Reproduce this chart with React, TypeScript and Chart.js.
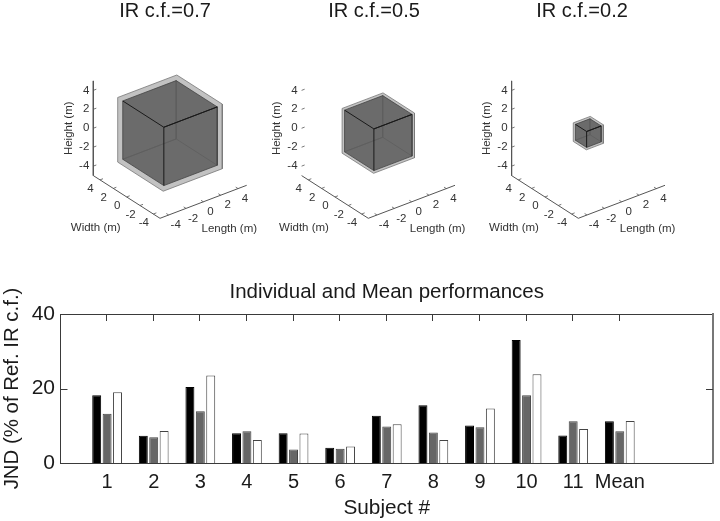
import React, { useEffect, useRef } from "react";
import { Chart, registerables } from "chart.js";

Chart.register(...registerables);

const FONT = '"Liberation Sans", Arial, sans-serif';
const INK = "#333333";

// Bar chart data
const subjects = ["1", "2", "3", "4", "5", "6", "7", "8", "9", "10", "11", "Mean"];
const seriesBlack = [18.2, 7.3, 20.4, 8.0, 8.0, 4.1, 12.7, 15.5, 10.1, 33.0, 7.4, 11.2];
const seriesGray = [13.2, 6.9, 13.9, 8.5, 3.6, 3.8, 9.8, 8.2, 9.6, 18.2, 11.2, 8.5];
const seriesWhite = [19.0, 8.6, 23.5, 6.2, 7.9, 4.4, 10.4, 6.2, 14.6, 23.8, 9.1, 11.3];
const yTicks = [0, 20, 40];
const yInnerTicks = [20];
const X_MAX = 14;
const Y_MAX = 40;
const TICK_PX = 7;

// Cube panels data (half-sizes in metres)
const panelTitles = ["IR c.f.=0.7", "IR c.f.=0.5", "IR c.f.=0.2"];
const outerHalf = [3.41, 2.36, 0.98];
const innerHalf = [3.08, 2.2, 0.84];
const axisTicks = [-4, -2, 0, 2, 4];
const axisLimit = 5;

// Layout of each 3D panel
const panelLeft = [55, 264, 472];
const panelCenterX = [170, 378.3, 588.3];
const panelHeightLine = [true, false, true];
const PANEL_W = 220;
const PANEL_H = 245;
const PANEL_TITLE = 21;
const CENTER_Y = 133.1;

// View vectors: screen displacement per metre, y up
const viewL = [8.67, 3.3];
const viewW = [-6.67, 4.27];
const viewH = 9.47;

type V3 = [number, number, number];
const project = ([l, w, h]: V3) => ({
  x: l * viewL[0] + w * viewW[0],
  y: l * viewL[1] + w * viewW[1] + h * viewH,
});
const pts = (list: V3[]) => list.map(project);

function hexagon(a: number): V3[] {
  return [
    [a, a, a],
    [a, -a, a],
    [a, -a, -a],
    [-a, -a, -a],
    [-a, a, -a],
    [-a, a, a],
    [a, a, a],
  ];
}

function star(a: number, sign: number): V3[] {
  // three edges meeting at the front-top (sign=1) or back-bottom (sign=-1) vertex
  const c: V3 = sign > 0 ? [-a, -a, a] : [a, a, -a];
  const s = sign > 0 ? 1 : -1;
  return [
    [c[0], c[1], c[2] - 2 * a * s],
    c,
    [c[0] + 2 * a * s, c[1], c[2]],
    c,
    [c[0], c[1] + 2 * a * s, c[2]],
  ];
}

const line = (data: { x: number; y: number }[], color: string, width: number, fill: any = false, bg = "transparent") => ({
  data,
  showLine: true,
  borderColor: color,
  borderWidth: width,
  backgroundColor: bg,
  fill,
  pointRadius: 0,
  tension: 0,
  clip: false as const,
});

function panelConfig(i: number) {
  const L = axisLimit;
  const o = outerHalf[i];
  const n = innerHalf[i];
  const cx = panelCenterX[i] - panelLeft[i];
  const tickLen = 0.35;
  const axisColor = "#555555";

  const datasets: any[] = [];
  // first dataset is painted on top
  datasets.push(line(pts(star(n, 1)), "#1a1a1a", 1));
  datasets.push(line(pts(hexagon(n)), "#444444", 0.8));
  datasets.push(line(pts(star(n, -1)), "#5e5e5e", 0.8));
  datasets.push(line(pts(hexagon(n)), "#444444", 0, "shape", "#6b6b6b"));
  datasets.push(line(pts(hexagon(o)), "#777777", 0.8, "shape", "#c2c2c2"));
  // axes
  datasets.push(line(pts([[-L, L, -L], [-L, -L, -L], [L, -L, -L]]), axisColor, 1));
  if (panelHeightLine[i]) datasets.push(line(pts([[-L, L, L], [-L, L, -L]]), axisColor, 1));
  axisTicks.forEach((v) => {
    datasets.push(line(pts([[v, -L, -L], [v, -L + tickLen, -L]]), axisColor, 0.8));
    datasets.push(line(pts([[-L, v, -L], [-L + tickLen, v, -L]]), axisColor, 0.8));
    datasets.push(line(pts([[-L, L, v], [-L + tickLen, L, v]]), axisColor, 0.8));
  });

  const textPlugin = {
    id: "panelText" + i,
    afterDatasetsDraw(chart: any) {
      const { ctx, scales } = chart;
      const at = (p: V3) => {
        const q = project(p);
        return { x: scales.x.getPixelForValue(q.x), y: scales.y.getPixelForValue(q.y) };
      };
      ctx.save();
      ctx.fillStyle = INK;
      ctx.font = `11.5px ${FONT}`;
      ctx.textBaseline = "middle";
      ctx.textAlign = "center";
      axisTicks.forEach((v) => {
        const a = at([v, -L, -L]);
        ctx.fillText(String(v), a.x + 7, a.y + 10);
        const b = at([-L, v, -L]);
        ctx.fillText(String(v), b.x - 9.5, b.y + 9);
      });
      ctx.textAlign = "right";
      axisTicks.forEach((v) => {
        const c = at([-L, L, v]);
        ctx.fillText(String(v), c.x - 4, c.y);
      });
      ctx.textAlign = "center";
      const origin = at([-L, -L, -L]);
      ctx.fillText("Width (m)", origin.x - 64.3, origin.y + 9.5);
      ctx.fillText("Length (m)", origin.x + 69.3, origin.y + 11);
      const hAxis = at([-L, L, 0]);
      ctx.translate(hAxis.x - 24.3, hAxis.y);
      ctx.rotate(-Math.PI / 2);
      ctx.fillText("Height (m)", 0, 0);
      ctx.restore();
    },
  };

  return {
    type: "scatter" as const,
    data: { datasets },
    plugins: [textPlugin],
    options: {
      animation: false as const,
      responsive: false,
      layout: { padding: 0 },
      plugins: {
        legend: { display: false },
        tooltip: { enabled: false },
        title: {
          display: true,
          text: panelTitles[i],
          color: "#1a1a1a",
          font: { family: FONT, size: 20, weight: "normal" as const, lineHeight: 1 },
          padding: { top: 1, bottom: 0 },
        },
      },
      scales: {
        x: { type: "linear" as const, display: false, min: -cx, max: PANEL_W - cx },
        y: {
          type: "linear" as const,
          display: false,
          min: -(PANEL_H - CENTER_Y),
          max: CENTER_Y - PANEL_TITLE,
        },
      },
    },
  };
}

function barConfig() {
  const frame = "#3a3a3a";
  const toXY = (vals: number[]) => vals.map((y, k) => ({ x: k + 1, y }));
  const common = { categoryPercentage: 0.67, barPercentage: 0.86, borderWidth: 1 };
  const noGrid = { display: false, drawTicks: false, drawOnChartArea: false, offset: false };
  const innerTicks = {
    id: "innerTicks",
    afterDraw(chart: any) {
      const { ctx, scales, chartArea } = chart;
      ctx.save();
      ctx.strokeStyle = frame;
      ctx.lineWidth = 1;
      ctx.beginPath();
      subjects.forEach((_, k) => {
        const x = Math.round(scales.x.getPixelForValue(k + 1)) - 0.5;
        ctx.moveTo(x, chartArea.top);
        ctx.lineTo(x, chartArea.top + TICK_PX);
      });
      yInnerTicks.forEach((v) => {
        const y = Math.round(scales.y.getPixelForValue(v)) + 0.5;
        ctx.moveTo(chartArea.left, y);
        ctx.lineTo(chartArea.left + TICK_PX, y);
        ctx.moveTo(chartArea.right, y);
        ctx.lineTo(chartArea.right - TICK_PX, y);
      });
      ctx.stroke();
      ctx.restore();
    },
  };
  return {
    type: "bar" as const,
    plugins: [innerTicks],
    data: {
      datasets: [
        { data: toXY(seriesBlack), backgroundColor: "#000000", borderColor: "#000000", ...common },
        { data: toXY(seriesGray), backgroundColor: "#666666", borderColor: "#444444", ...common },
        { data: toXY(seriesWhite), backgroundColor: "#ffffff", borderColor: "#444444", ...common },
      ],
    },
    options: {
      animation: false as const,
      responsive: false,
      layout: { padding: { left: 0, top: 0, bottom: 0, right: 3 } },
      plugins: {
        legend: { display: false },
        tooltip: { enabled: false },
        title: {
          display: true,
          text: "Individual and Mean performances",
          color: "#1a1a1a",
          fullSize: false,
          font: { family: FONT, size: 20.5, weight: "normal" as const, lineHeight: 1 },
          padding: { top: 12.5, bottom: 11 },
        },
      },
      scales: {
        x: {
          type: "linear" as const,
          position: "bottom" as const,
          offset: false,
          min: 0,
          max: X_MAX,
          grid: noGrid,
          border: { color: frame, width: 1 },
          ticks: {
            stepSize: 1,
            autoSkip: false,
            maxRotation: 0,
            padding: 7,
            color: "#1a1a1a",
            font: { family: FONT, size: 20 },
            callback: (v: number) => subjects[v - 1] ?? "",
          },
          title: {
            display: true,
            text: "Subject #",
            color: "#1a1a1a",
            font: { family: FONT, size: 20.8 },
            padding: 0,
          },
          afterFit: (s: any) => { s.height = 58; },
        },
        xTop: {
          type: "linear" as const,
          position: "top" as const,
          offset: false,
          min: 0,
          max: X_MAX,
          grid: noGrid,
          border: { color: frame, width: 1 },
          ticks: { display: false },
          afterFit: (s: any) => { s.height = 0; },
        },
        y: {
          type: "linear" as const,
          position: "left" as const,
          min: 0,
          max: Y_MAX,
          grid: noGrid,
          border: { color: frame, width: 1 },
          afterBuildTicks: (s: any) => { s.ticks = yTicks.map((value) => ({ value })); },
          ticks: { padding: 5.5, color: "#1a1a1a", font: { family: FONT, size: 21 } },
          title: {
            display: true,
            text: "JND (% of Ref. IR c.f.)",
            color: "#1a1a1a",
            font: { family: FONT, size: 20.4 },
            padding: 0,
          },
          afterFit: (s: any) => { s.width = 60.5; },
        },
        yRight: {
          type: "linear" as const,
          position: "right" as const,
          min: 0,
          max: Y_MAX,
          grid: noGrid,
          border: { color: "#777777", width: 2 },
          ticks: { display: false },
          afterFit: (s: any) => { s.width = 0; },
        },
      },
    },
  };
}

export default function App() {
  const p0 = useRef<HTMLCanvasElement>(null);
  const p1 = useRef<HTMLCanvasElement>(null);
  const p2 = useRef<HTMLCanvasElement>(null);
  const bar = useRef<HTMLCanvasElement>(null);

  useEffect(() => {
    const charts = [p0, p1, p2].map((r, i) => new Chart(r.current as any, panelConfig(i) as any));
    charts.push(new Chart(bar.current as any, barConfig() as any));
    return () => charts.forEach((c) => c.destroy());
  }, []);

  const abs = (left: number, top: number): React.CSSProperties => ({ position: "absolute", left, top, display: "block" });
  return (
    <div style={{ position: "absolute", left: 0, top: 0, width: 720, height: 521, background: "#fff", overflow: "hidden" }}>
      <canvas ref={p0} width={PANEL_W} height={PANEL_H} style={abs(panelLeft[0], 0)} />
      <canvas ref={p1} width={PANEL_W} height={PANEL_H} style={abs(panelLeft[1], 0)} />
      <canvas ref={p2} width={PANEL_W} height={PANEL_H} style={abs(panelLeft[2], 0)} />
      <canvas ref={bar} width={720} height={251} style={abs(0, 270)} />
    </div>
  );
}
